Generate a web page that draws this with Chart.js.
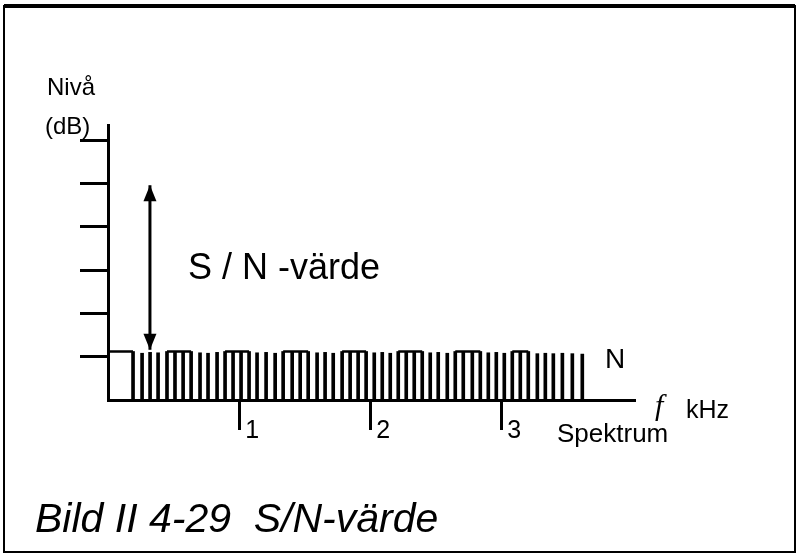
<!DOCTYPE html>
<html>
<head>
<meta charset="utf-8">
<script src="https://cdn.jsdelivr.net/npm/chart.js@4.4.1/dist/chart.umd.min.js"></script>
<style>
  html, body { margin: 0; padding: 0; background: #fff; }
  canvas { display: block; }
</style>
</head>
<body>
<canvas id="chart" width="799" height="556"></canvas>
<script>
// axis ticks (kHz along x, level steps along y)
const xTicks = [1, 2, 3];
const yTicks = [1, 2, 3, 4, 5, 6];

// noise spectrum lines, frequency in kHz and level
const noiseFreq = [
    0.191, 0.260, 0.321, 0.382, 0.450, 0.511, 0.573, 0.634, 0.702, 0.763,
    0.832, 0.893, 0.954, 1.015, 1.076, 1.137, 1.206, 1.275, 1.336, 1.405,
    1.466, 1.527, 1.595, 1.656, 1.718, 1.786, 1.847, 1.908, 1.969, 2.031,
    2.092, 2.153, 2.214, 2.275, 2.336, 2.397, 2.458, 2.519, 2.588, 2.649,
    2.710, 2.779, 2.840, 2.901, 2.962, 3.023, 3.084, 3.145, 3.206, 3.275,
    3.336, 3.397, 3.466, 3.542, 3.618
];
const noiseLevel = [
    1.12, 1.08, 1.10, 1.09, 1.12, 1.10, 1.11, 1.12, 1.09, 1.08,
    1.10, 1.12, 1.11, 1.10, 1.12, 1.09, 1.10, 1.08, 1.12, 1.11,
    1.10, 1.12, 1.09, 1.10, 1.08, 1.12, 1.11, 1.10, 1.12, 1.09,
    1.10, 1.08, 1.12, 1.11, 1.10, 1.12, 1.09, 1.10, 1.08, 1.12,
    1.11, 1.10, 1.12, 1.09, 1.10, 1.08, 1.12, 1.11, 1.12, 1.07,
    1.08, 1.07, 1.08, 1.07, 1.06
];
// flat tops joining groups of lines
const noiseCaps = [
    [0, 0.191], [0.450, 0.634], [0.893, 1.076], [1.336, 1.527],
    [1.786, 1.969], [2.214, 2.397], [2.649, 2.840], [3.084, 3.206]
];
const capLevel = 1.12;

// S/N arrow
const arrowFreq = 0.32;
const arrowLevels = [4.96, 1.16];

const FONT = '"Liberation Sans", Arial, sans-serif';

const capPoints = [];
noiseCaps.forEach(([a, b]) => {
    capPoints.push({ x: a, y: capLevel }, { x: b, y: capLevel }, { x: b, y: null });
});

const annotate = {
    id: 'annotate',
    beforeDraw(chart) {
        const { ctx, width, height } = chart;
        ctx.save();
        ctx.fillStyle = '#fff';
        ctx.fillRect(0, 0, width, height);
        ctx.strokeStyle = '#000';
        ctx.lineWidth = 2;
        ctx.strokeRect(4, 6, width - 8, height - 10);
        ctx.lineWidth = 4;
        ctx.beginPath();
        ctx.moveTo(4, 6);
        ctx.lineTo(width - 4, 6);
        ctx.stroke();
        ctx.restore();
    },
    afterDatasetsDraw(chart) {
        const ctx = chart.ctx;
        const meta = chart.getDatasetMeta(2);
        const top = meta.data[0];
        const bottom = meta.data[1];
        ctx.save();
        ctx.fillStyle = '#000';
        ctx.beginPath();
        ctx.moveTo(top.x, top.y);
        ctx.lineTo(top.x - 6.5, top.y + 16);
        ctx.lineTo(top.x + 6.5, top.y + 16);
        ctx.closePath();
        ctx.fill();
        ctx.beginPath();
        ctx.moveTo(bottom.x, bottom.y);
        ctx.lineTo(bottom.x - 6.5, bottom.y - 16);
        ctx.lineTo(bottom.x + 6.5, bottom.y - 16);
        ctx.closePath();
        ctx.fill();

        ctx.textBaseline = 'alphabetic';
        ctx.textAlign = 'left';
        ctx.font = '24px ' + FONT;
        ctx.fillText('Nivå', 47, 95);
        ctx.fillText('(dB)', 45, 134);
        ctx.font = '36px ' + FONT;
        ctx.fillText('S / N -värde', 188, 279);
        ctx.font = '28px ' + FONT;
        ctx.fillText('N', 605, 368);
        ctx.font = 'italic 30px "Liberation Serif", serif';
        ctx.fillText('f', 655, 415);
        ctx.font = '25px ' + FONT;
        ctx.fillText('kHz', 686, 418);
        ctx.font = '26px ' + FONT;
        ctx.fillText('Spektrum', 557, 442);
        ctx.font = 'italic 41px ' + FONT;
        ctx.fillText('Bild II 4-29  S/N-värde', 35, 532);
        ctx.restore();
    }
};

new Chart(document.getElementById('chart'), {
    type: 'scatter',
    data: {
        datasets: [
            {
                type: 'bar',
                label: 'N',
                data: noiseFreq.map((f, i) => ({ x: f, y: noiseLevel[i] })),
                backgroundColor: '#000',
                borderWidth: 0,
                barThickness: 3
            },
            {
                type: 'line',
                label: 'caps',
                data: capPoints,
                borderColor: '#000',
                borderWidth: 2.5,
                pointRadius: 0,
                spanGaps: false
            },
            {
                type: 'line',
                label: 'S/N',
                data: arrowLevels.map(v => ({ x: arrowFreq, y: v })),
                borderColor: '#000',
                borderWidth: 3,
                pointRadius: 0
            }
        ]
    },
    options: {
        responsive: false,
        animation: false,
        events: [],
        layout: { padding: { left: 80, right: 164, top: 125, bottom: 0 } },
        plugins: {
            legend: { display: false },
            tooltip: { enabled: false }
        },
        scales: {
            x: {
                type: 'linear',
                min: 0,
                max: 4.02,
                offset: false,
                afterBuildTicks: s => { s.ticks = xTicks.map(v => ({ value: v })); },
                afterFit: s => { s.height = 156; },
                grid: {
                    offset: false,
                    drawOnChartArea: false,
                    drawTicks: true,
                    tickLength: 30,
                    tickWidth: 3,
                    color: '#000'
                },
                border: { display: true, width: 3, color: '#000' },
                ticks: {
                    color: '#000',
                    font: { size: 25, family: FONT },
                    padding: -14,
                    labelOffset: 13,
                    maxRotation: 0,
                    autoSkip: false,
                    callback: v => String(v)
                }
            },
            y: {
                type: 'linear',
                min: 0,
                max: 6.35,
                afterBuildTicks: s => { s.ticks = yTicks.map(v => ({ value: v })); },
                afterFit: s => { s.width = 28; },
                grid: {
                    drawOnChartArea: false,
                    drawTicks: true,
                    tickLength: 28,
                    tickWidth: 3,
                    color: '#000'
                },
                border: { display: true, width: 3, color: '#000' },
                ticks: { display: false }
            }
        }
    },
    plugins: [annotate]
});
</script>
</body>
</html>
